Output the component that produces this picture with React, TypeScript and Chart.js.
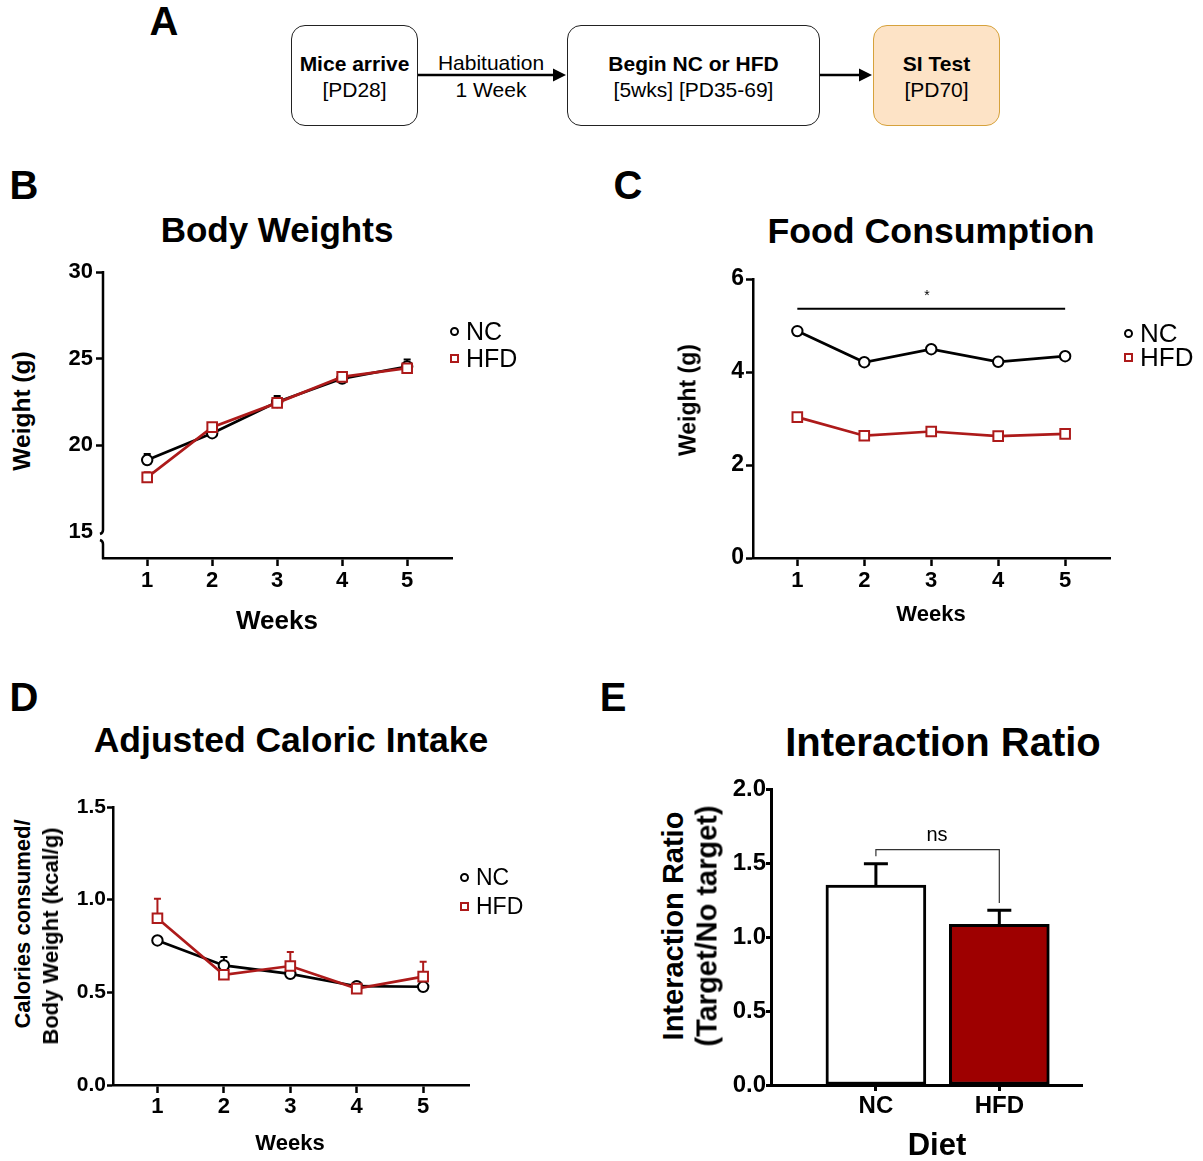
import React, { useEffect, useRef } from 'react';
import { Chart, registerables } from 'chart.js';

Chart.register(...registerables);

const FONT = '"Liberation Sans", Arial, Helvetica, sans-serif';
Chart.defaults.font.family = FONT;
Chart.defaults.color = '#000';

const RED = '#ad1a1a';
const BAR_RED = '#9e0000';

// ---------------- data ----------------
const weeks = [1, 2, 3, 4, 5];

const bodyNC = [19.15, 20.7, 22.5, 23.85, 24.55];
const bodyNCErr = [0.35, 0.15, 0.35, 0.2, 0.4];
const bodyHFD = [18.15, 21.05, 22.45, 23.95, 24.45];
const bodyHFDErr = [0.3, 0.2, 0.15, 0.2, 0.2];
const bodyTicks = [15, 20, 25, 30];

const foodNC = [4.88, 4.21, 4.49, 4.22, 4.34];
const foodNCErr = [0.06, 0.03, 0.04, 0.04, 0.08];
const foodHFD = [3.03, 2.63, 2.72, 2.62, 2.67];
const foodHFDErr = [0.03, 0.03, 0.03, 0.03, 0.03];
const foodTicks = [0, 2, 4, 6];
const foodSigLevel = 5.36;

const calNC = [0.78, 0.645, 0.6, 0.533, 0.53];
const calNCErr = [0.015, 0.045, 0.01, 0.01, 0.005];
const calHFD = [0.9, 0.595, 0.642, 0.52, 0.585];
const calHFDErr = [0.105, 0.01, 0.075, 0.01, 0.08];
const calTicks = [0, 0.5, 1.0, 1.5];

const dietGroups = ['NC', 'HFD'];
const ratioMeans = [1.35, 1.085];
const ratioErr = [0.145, 0.095];
const ratioTicks = [0, 0.5, 1.0, 1.5, 2.0];
const nsTop = 1.59;
const nsLeftEnd = 1.545;
const nsRightEnd = 1.23;

// ---------------- plugins ----------------
type ErrSet = { index: number; errors: number[]; color: string };

function errorBars(sets: ErrSet[], width: number, cap: number, after: boolean) {
  const draw = (chart: any) => {
    const { ctx } = chart;
    const ys = chart.scales.y;
    sets.forEach((set) => {
      const meta = chart.getDatasetMeta(set.index);
      const ds = chart.data.datasets[set.index];
      meta.data.forEach((el: any, i: number) => {
        const raw = ds.data[i];
        const v = typeof raw === 'number' ? raw : raw.y;
        const x = el.x;
        const y0 = ys.getPixelForValue(v);
        const y1 = ys.getPixelForValue(v + set.errors[i]);
        ctx.save();
        ctx.strokeStyle = set.color;
        ctx.lineWidth = width;
        ctx.beginPath();
        ctx.moveTo(x, y0);
        ctx.lineTo(x, y1);
        ctx.moveTo(x - cap / 2, y1);
        ctx.lineTo(x + cap / 2, y1);
        ctx.stroke();
        ctx.restore();
      });
    });
  };
  return {
    id: 'errorBars',
    beforeDatasetsDraw(chart: any) {
      if (!after) draw(chart);
    },
    afterDatasetsDraw(chart: any) {
      if (after) draw(chart);
    },
  };
}

function axisBreak(at: number, width: number) {
  return {
    id: 'axisBreak',
    afterDraw(chart: any) {
      const { ctx, chartArea, scales } = chart;
      const x = chartArea.left;
      const yb = scales.y.getPixelForValue(at);
      ctx.save();
      ctx.strokeStyle = '#000';
      ctx.lineWidth = width;
      ctx.beginPath();
      ctx.moveTo(x, chartArea.top - 1);
      ctx.lineTo(x, yb - 2);
      ctx.quadraticCurveTo(x, yb + 1, x - 3, yb + 2);
      ctx.stroke();
      ctx.beginPath();
      ctx.moveTo(x - 3, yb + 8);
      ctx.quadraticCurveTo(x, yb + 9, x, yb + 12);
      ctx.lineTo(x, chartArea.bottom + 1);
      ctx.stroke();
      ctx.restore();
    },
  };
}

function pathsPlugin(paths: number[][][], color: string, width: number) {
  return {
    id: 'annotPaths',
    afterDatasetsDraw(chart: any) {
      const { ctx } = chart;
      const xs = chart.scales.x;
      const ys = chart.scales.y;
      ctx.save();
      ctx.strokeStyle = color;
      ctx.lineWidth = width;
      paths.forEach((p) => {
        ctx.beginPath();
        p.forEach(([a, b], i) => {
          const px = xs.getPixelForValue(a);
          const py = ys.getPixelForValue(b);
          if (i) ctx.lineTo(px, py);
          else ctx.moveTo(px, py);
        });
        ctx.stroke();
      });
      ctx.restore();
    },
  };
}

// ---------------- helpers ----------------
const AXW = 40; // fixed y axis box width
const AXH = 40; // fixed x axis box height

type Box = { x: number; y: number; w: number; h: number };
type Area = { L: number; T: number; R: number; B: number };

function padding(c: Box, a: Area) {
  return {
    left: a.L - c.x - AXW,
    top: a.T - c.y,
    right: c.x + c.w - a.R,
    bottom: c.y + c.h - a.B - AXH,
  };
}

function lineSet(label: string, values: number[], color: string, style: string) {
  const rect = style === 'rect';
  return {
    label,
    data: weeks.map((w, i) => ({ x: w, y: values[i] })),
    borderColor: color,
    borderWidth: 2.7,
    pointStyle: style,
    pointRadius: rect ? 6.8 : 5.2,
    pointBorderWidth: 2,
    pointBackgroundColor: '#fff',
    pointBorderColor: color,
    order: rect ? 0 : 1,
    tension: 0,
    clip: false,
  };
}

function xAxis(min: number, max: number, vals: number[], size: number, pad: number, tickLen: number, lw: number, labels?: string[]) {
  return {
    type: 'linear',
    min,
    max,
    offset: false,
    afterBuildTicks: (s: any) => {
      s.ticks = vals.map((v) => ({ value: v }));
    },
    afterFit: (s: any) => {
      s.height = AXH;
    },
    grid: { display: true, offset: false, drawOnChartArea: false, drawTicks: true, tickLength: tickLen, tickWidth: lw, tickColor: '#000' },
    border: { display: true, color: '#000', width: lw },
    ticks: {
      font: { size, weight: 'bold', family: FONT },
      color: '#000',
      padding: pad,
      autoSkip: false,
      maxRotation: 0,
      callback: (v: any) => (labels ? labels[Math.round(v) - 1] : String(v)),
    },
  };
}

function yAxis(min: number, max: number, vals: number[], size: number, pad: number, tickLen: number, lw: number, digits: number, showBorder: boolean, hideTick?: number) {
  return {
    type: 'linear',
    min,
    max,
    afterBuildTicks: (s: any) => {
      s.ticks = vals.map((v) => ({ value: v }));
    },
    afterFit: (s: any) => {
      s.width = AXW;
    },
    grid: {
      display: true,
      drawOnChartArea: false,
      drawTicks: true,
      tickLength: tickLen,
      tickWidth: lw,
      tickColor: (c: any) => (hideTick !== undefined && c.tick && c.tick.value === hideTick ? 'rgba(0,0,0,0)' : '#000'),
    },
    border: { display: showBorder, color: '#000', width: lw },
    ticks: {
      font: { size, weight: 'bold', family: FONT },
      color: '#000',
      padding: pad,
      autoSkip: false,
      callback: (v: any) => Number(v).toFixed(digits),
    },
  };
}

function baseOptions(c: Box, a: Area) {
  return {
    responsive: false,
    animation: false,
    devicePixelRatio: 1,
    events: [],
    layout: { padding: padding(c, a) },
    plugins: { legend: { display: false }, tooltip: { enabled: false }, title: { display: false } },
  };
}

// ---------------- chart configs ----------------
const boxB: Box = { x: 40, y: 250, w: 440, h: 370 };
const areaB: Area = { L: 103, T: 272, R: 452, B: 558 };

const boxC: Box = { x: 700, y: 255, w: 430, h: 365 };
const areaC: Area = { L: 753, T: 279, R: 1110, B: 558 };

const boxD: Box = { x: 60, y: 785, w: 430, h: 350 };
const areaD: Area = { L: 113, T: 807, R: 469, B: 1085 };

const boxE: Box = { x: 720, y: 765, w: 380, h: 370 };
const areaE: Area = { L: 771, T: 789, R: 1082, B: 1085 };

function configB(): any {
  return {
    type: 'line',
    data: { datasets: [lineSet('NC', bodyNC, '#000', 'circle'), lineSet('HFD', bodyHFD, RED, 'rect')] },
    options: {
      ...baseOptions(boxB, areaB),
      scales: {
        x: xAxis(0.32, 5.69, weeks, 22, 2, 8, 2.5),
        y: yAxis(13.5, 30, bodyTicks, 22, 3, 7, 2.5, 0, false, 15),
      },
    },
    plugins: [
      errorBars([{ index: 0, errors: bodyNCErr, color: '#000' }, { index: 1, errors: bodyHFDErr, color: RED }], 2, 7, false),
      axisBreak(15, 2.5),
    ],
  };
}

function configC(): any {
  return {
    type: 'line',
    data: { datasets: [lineSet('NC', foodNC, '#000', 'circle'), lineSet('HFD', foodHFD, RED, 'rect')] },
    options: {
      ...baseOptions(boxC, areaC),
      scales: {
        x: xAxis(0.338, 5.67, weeks, 22, 2, 8, 2.5),
        y: yAxis(0, 6, foodTicks, 23, 2, 7, 2.5, 0, true),
      },
    },
    plugins: [
      errorBars([{ index: 0, errors: foodNCErr, color: '#000' }, { index: 1, errors: foodHFDErr, color: RED }], 2, 7, false),
      pathsPlugin([[[1, foodSigLevel], [5, foodSigLevel]]], '#000', 2),
    ],
  };
}

function configD(): any {
  return {
    type: 'line',
    data: { datasets: [lineSet('NC', calNC, '#000', 'circle'), lineSet('HFD', calHFD, RED, 'rect')] },
    options: {
      ...baseOptions(boxD, areaD),
      scales: {
        x: xAxis(0.331, 5.69, weeks, 22, 1, 8, 2.5),
        y: yAxis(0, 1.5, calTicks, 21, 1, 6, 2.5, 1, true),
      },
    },
    plugins: [
      errorBars([{ index: 0, errors: calNCErr, color: '#000' }, { index: 1, errors: calHFDErr, color: RED }], 2, 7, false),
    ],
  };
}

function configE(): any {
  return {
    type: 'bar',
    data: {
      datasets: [
        {
          label: 'Interaction Ratio',
          data: dietGroups.map((g, i) => ({ x: i + 1, y: ratioMeans[i] })),
          backgroundColor: ['#ffffff', BAR_RED],
          borderColor: '#000',
          borderWidth: 3,
          borderSkipped: false,
          barThickness: 100,
        },
      ],
    },
    options: {
      ...baseOptions(boxE, areaE),
      scales: {
        x: xAxis(0.15, 2.67, [1, 2], 24, 1, 6, 3, dietGroups),
        y: yAxis(0, 2, ratioTicks, 24, 0, 5, 3, 1, true),
      },
    },
    plugins: [
      errorBars([{ index: 0, errors: ratioErr, color: '#000' }], 3, 24, true),
      pathsPlugin([[[1, nsLeftEnd], [1, nsTop], [2, nsTop], [2, nsRightEnd]]], '#333', 1.2),
    ],
  };
}

// ---------------- components ----------------
function ChartCanvas({ box, make }: { box: Box; make: () => any }) {
  const ref = useRef<HTMLCanvasElement>(null);
  useEffect(() => {
    const chart = new Chart(ref.current as HTMLCanvasElement, make());
    return () => chart.destroy();
  }, []);
  return (
    <canvas
      ref={ref}
      width={box.w}
      height={box.h}
      style={{ position: 'absolute', left: box.x, top: box.y, width: box.w, height: box.h }}
    />
  );
}

function Txt({ x, y, size, bold = true, rot = false, align = 'center', children }: any) {
  const tx = align === 'left' ? '0' : '-50%';
  return (
    <div
      style={{
        position: 'absolute',
        left: x,
        top: y,
        fontFamily: FONT,
        fontSize: size,
        fontWeight: bold ? 700 : 400,
        lineHeight: 1,
        whiteSpace: 'nowrap',
        color: '#000',
        transform: `translate(${tx}, -50%)${rot ? ' rotate(-90deg)' : ''}`,
      }}
    >
      {children}
    </div>
  );
}

function Marker({ x, y, shape, color }: any) {
  const s = 9;
  return (
    <div
      style={{
        position: 'absolute',
        left: x - s / 2,
        top: y - s / 2,
        width: s,
        height: s,
        boxSizing: 'border-box',
        border: `2px solid ${color}`,
        borderRadius: shape === 'circle' ? '50%' : 0,
        background: '#fff',
      }}
    />
  );
}

function Legend({ x, y1, y2, size }: any) {
  return (
    <>
      <Marker x={x} y={y1} shape="circle" color="#000" />
      <Txt x={x + 12} y={y1} size={size} bold={false} align="left">NC</Txt>
      <Marker x={x} y={y2} shape="rect" color={RED} />
      <Txt x={x + 12} y={y2} size={size} bold={false} align="left">HFD</Txt>
    </>
  );
}

function FlowBox({ x, w, fill, border, l1, l2 }: any) {
  const y = 25;
  const h = 101;
  return (
    <>
      <div
        style={{
          position: 'absolute',
          left: x,
          top: y,
          width: w,
          height: h,
          boxSizing: 'border-box',
          border: `1.5px solid ${border}`,
          borderRadius: 14,
          background: fill,
        }}
      />
      <Txt x={x + w / 2} y={63} size={21} bold>{l1}</Txt>
      <Txt x={x + w / 2} y={89} size={21} bold={false}>{l2}</Txt>
    </>
  );
}

function Arrow({ x1, x2, y }: any) {
  return (
    <svg style={{ position: 'absolute', left: 0, top: 0 }} width={1203} height={140}>
      <line x1={x1} y1={y} x2={x2 - 10} y2={y} stroke="#000" strokeWidth={2.5} />
      <polygon points={`${x2},${y} ${x2 - 13},${y - 6.5} ${x2 - 13},${y + 6.5}`} fill="#000" />
    </svg>
  );
}

export default function App() {
  return (
    <div
      style={{
        position: 'absolute',
        left: 0,
        top: 0,
        width: 1203,
        height: 1161,
        background: '#fff',
        overflow: 'hidden',
        fontFamily: FONT,
      }}
    >
      {/* Panel A: timeline */}
      <Txt x={164} y={21} size={40}>A</Txt>
      <Arrow x1={418} x2={566} y={75} />
      <Arrow x1={820} x2={872} y={75} />
      <FlowBox x={291} w={127} fill="#fff" border="#222" l1="Mice arrive" l2="[PD28]" />
      <Txt x={491} y={62} size={21} bold={false}>Habituation</Txt>
      <Txt x={491} y={89} size={21} bold={false}>1 Week</Txt>
      <FlowBox x={567} w={253} fill="#fff" border="#222" l1="Begin NC or HFD" l2="[5wks] [PD35-69]" />
      <FlowBox x={873} w={127} fill="#fde3c6" border="#d6a23c" l1="SI Test" l2="[PD70]" />

      {/* Panel B */}
      <ChartCanvas box={boxB} make={configB} />
      <Txt x={24} y={185} size={40}>B</Txt>
      <Txt x={277} y={229} size={35}>Body Weights</Txt>
      <Txt x={22} y={411} size={24.5} rot>Weight (g)</Txt>
      <Txt x={277} y={620} size={26}>Weeks</Txt>
      <Legend x={454} y1={331} y2={358} size={25} />

      {/* Panel C */}
      <ChartCanvas box={boxC} make={configC} />
      <Txt x={628} y={185} size={40}>C</Txt>
      <Txt x={931} y={232} size={35.7}>Food Consumption</Txt>
      <Txt x={688} y={400} size={23} rot>Weight (g)</Txt>
      <Txt x={931} y={614} size={22}>Weeks</Txt>
      <Txt x={927} y={295} size={14} bold={false}>*</Txt>
      <Legend x={1128} y1={333} y2={357} size={26} />

      {/* Panel D */}
      <ChartCanvas box={boxD} make={configD} />
      <Txt x={24} y={697} size={40}>D</Txt>
      <Txt x={291} y={741} size={35.5}>Adjusted Caloric Intake</Txt>
      <Txt x={23} y={924} size={22} rot>Calories consumed/</Txt>
      <Txt x={51} y={936} size={22} rot>Body Weight (kcal/g)</Txt>
      <Txt x={290} y={1143} size={22}>Weeks</Txt>
      <Legend x={464} y1={877} y2={906} size={23} />

      {/* Panel E */}
      <ChartCanvas box={boxE} make={configE} />
      <Txt x={613} y={697} size={40}>E</Txt>
      <Txt x={943} y={742} size={40}>Interaction Ratio</Txt>
      <Txt x={673} y={926} size={29} rot>Interaction Ratio</Txt>
      <Txt x={707} y={926} size={29} rot>(Target/No target)</Txt>
      <Txt x={937} y={834} size={20} bold={false}>ns</Txt>
      <Txt x={937} y={1144} size={31}>Diet</Txt>
    </div>
  );
}
